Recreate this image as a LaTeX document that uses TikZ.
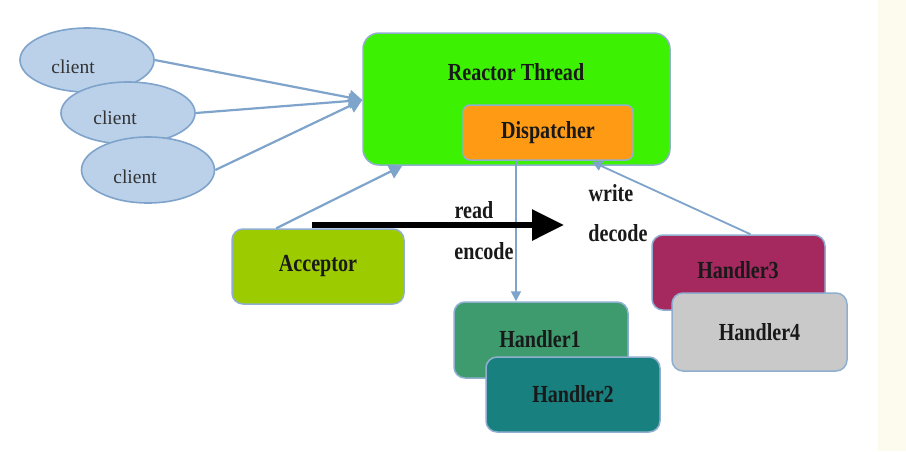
\documentclass[tikz,border=0pt]{standalone}
\usepackage{fontspec}
\setmainfont{Liberation Serif}
\newfontfamily\labelfont[FakeStretch=0.82]{Liberation Serif}
\usetikzlibrary{arrows.meta,calc,shapes.geometric}

\definecolor{reactorgreen}{HTML}{3CF202}
\definecolor{dispatchorange}{HTML}{FF9A14}
\definecolor{acceptorgreen}{HTML}{9CCB00}
\definecolor{handlerone}{HTML}{3E9B6E}
\definecolor{handlertwo}{HTML}{18807F}
\definecolor{handlerthree}{HTML}{A5285F}
\definecolor{handlerfour}{HTML}{C9C9C9}
\definecolor{clientfill}{HTML}{BBD1EA}
\definecolor{clientedge}{HTML}{7FA3CA}
\definecolor{boxedge}{HTML}{90AFD0}
\definecolor{linkblue}{HTML}{7FA4CB}
\definecolor{cream}{HTML}{FDFAEE}

\tikzset{
  client/.style={ellipse, draw=clientedge, line width=1.6pt, fill=clientfill},
  clientlabel/.style={font=\fontsize{19.5}{22}\selectfont, text=black!80, inner sep=0pt},
  block/.style={rectangle, rounded corners=11pt, draw=boxedge, line width=1.5pt,
    font=\labelfont\fontsize{24.5}{28}\bfseries\selectfont, text=black!90},
  caption/.style={font=\labelfont\fontsize{24.5}{28}\bfseries\selectfont, text=black!90, inner sep=0pt},
  link/.style={draw=linkblue, line width=2.2pt, -{Triangle[width=15pt,length=13pt]}},
  thinlink/.style={draw=linkblue, line width=1.8pt, -{Triangle[width=10pt,length=10pt]}},
  bigarrow/.style={draw=black, line width=6pt, -{Triangle[width=30pt,length=32pt]}}
}

\begin{document}
\begin{tikzpicture}[x=1pt,y=-1pt]
  % canvas
  \path[use as bounding box, fill=white] (0,0) rectangle (906,451);
  \fill[cream] (878,0) rectangle (906,451);

  % clients
  \node[client, minimum width=134pt, minimum height=64pt] (c1) at (87,60) {};
  \node[clientlabel] (c1t) at (73,67) {client};
  \node[client, minimum width=134pt, minimum height=62pt] (c2) at (128,113) {};
  \node[clientlabel] (c2t) at (115,118) {client};
  \node[client, minimum width=133pt, minimum height=66pt] (c3) at (148,170) {};
  \node[clientlabel] (c3t) at (135,177) {client};

  % reactor thread with its dispatcher
  \node[block, fill=reactorgreen, minimum width=307pt, minimum height=132pt, rounded corners=16pt] (reactor) at (516.5,99) {};
  \node[caption] (rtitle) at (516,72) {Reactor Thread};
  \node[block, fill=dispatchorange, minimum width=170pt, minimum height=55pt, rounded corners=7pt] (disp) at (548,132.5) {Dispatcher};

  % acceptor
  \node[block, fill=acceptorgreen, minimum width=172pt, minimum height=75pt] (acc) at (318,266.5) {Acceptor};

  % handlers
  \node[block, fill=handlerone, minimum width=174pt, minimum height=76pt] (h1) at (541,340) {};
  \node[caption] (h1t) at (540,339) {Handler1};
  \node[block, fill=handlertwo, minimum width=174pt, minimum height=75pt] (h2) at (573,394.5) {Handler2};
  \node[block, fill=handlerthree, minimum width=173pt, minimum height=75pt] (h3) at (738.5,272.5) {};
  \node[caption] (h3t) at (738,270) {Handler3};
  \node[block, fill=handlerfour, minimum width=175pt, minimum height=78pt] (h4) at (759.5,332) {Handler4};

  % clients feed the reactor
  \coordinate (rin) at ($(reactor.west)+(0,1)$);
  \draw[link] (c1.east) -- (rin);
  \draw[link] (c2.east) -- (rin);
  \draw[link] (c3.east) -- (rin);

  % acceptor registers with the reactor
  \draw[link] ([xshift=45pt]acc.north west) -- ([xshift=40pt]reactor.south west);

  % dispatcher hands read events to handler1
  \coordinate (dout) at ([xshift=-32pt]disp.south);
  \draw[thinlink] (dout) -- (dout |- h1.north);

  % handler3 reports back to the dispatcher
  \draw[thinlink] ([xshift=12pt]h3.north) -- ([xshift=44pt,yshift=-1pt]disp.south);

  % main data flow
  \coordinate (flowstart) at (312,225);
  \coordinate (flowend) at (564,225);
  \draw[bigarrow] (flowstart) -- (flowend);

  % flow captions
  \node[caption] (lread) at (474,210) {read};
  \node[caption] (lencode) at (484,251) {encode};
  \node[caption] (lwrite) at (611,193) {write};
  \node[caption] (ldecode) at (618,233) {decode};
\end{tikzpicture}
\end{document}
